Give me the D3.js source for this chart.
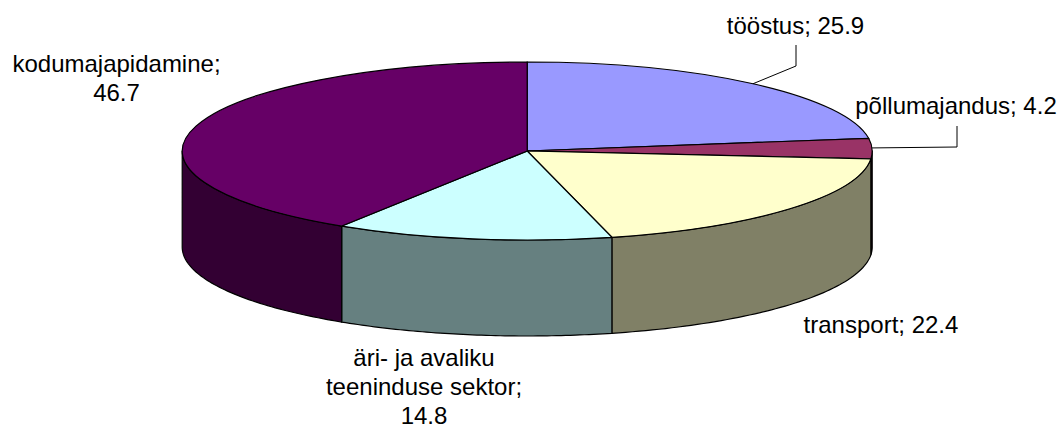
<!DOCTYPE html>
<html><head><meta charset="utf-8">
<script src="https://cdn.jsdelivr.net/npm/d3@7"></script>
<style>html,body{margin:0;background:#fff}svg{display:block}text{font-family:"Liberation Sans",Arial,sans-serif;font-size:24px;fill:#000}</style>
</head><body><svg id="c" width="1060" height="426"></svg>
<script>
const categories=["tööstus","põllumajandus","transport","äri- ja avaliku teeninduse sektor","kodumajapidamine"];
const values=[25.9,4.2,22.4,14.8,46.7];
const topColors=["#9999FF","#993366","#FFFFCC","#CCFFFF","#660066"];
const sideColors=["#4D4D80","#4D1933","#808066","#668080","#330033"];
const labelLines=[["tööstus; 25.9"],["põllumajandus; 4.2"],["transport; 22.4"],["äri- ja avaliku","teeninduse sektor;","14.8"],["kodumajapidamine;","46.7"]];
const labelAnchors=[[795.5,34],[956,114],[881,333],[424,366],[116.5,72]];
const lineHeight=29;
const leaderElbows=[[[796,66],[796,45]],[[957,147],[957,126]],[],[],[]];
const leaderFractions=[0.5,0.47,null,null,null];

const cx=527.2,cy=151,rx=345,ry=89,depth=96;
const svg=d3.select("#c");
const pie=d3.pie().sort(null).value(d=>d)(values);
const px=d3.scaleLinear().domain([-1,1]).range([cx-rx,cx+rx]);
const py=d3.scaleLinear().domain([-1,1]).range([cy-ry,cy+ry]);
const rim=(a,dz=0)=>[px(Math.sin(a)),py(-Math.cos(a))+dz];
const line=d3.line();
const sampled=(a0,a1)=>d3.range(0,61).map(i=>a0+(a1-a0)*i/60);

// side walls: only the front half of the disc is visible
const wall=svg.append("g");
pie.forEach((s,i)=>{
  const a0=Math.max(s.startAngle,Math.PI/2),a1=Math.min(s.endAngle,Math.PI*1.5);
  if(a1<=a0)return;
  const as=sampled(a0,a1);
  const pts=as.map(a=>rim(a)).concat(as.slice().reverse().map(a=>rim(a,depth)));
  wall.append("path").attr("d",line(pts)+"Z").attr("fill",sideColors[i])
    .attr("stroke","#000").attr("stroke-width",1.2).attr("stroke-linejoin","round");
});
// top face
const arc=d3.arc().innerRadius(0).outerRadius(rx);
svg.append("g").attr("transform",`translate(${cx},${cy}) scale(1,${ry/rx})`)
  .selectAll("path").data(pie).join("path")
  .attr("d",arc).attr("fill",(d,i)=>topColors[i])
  .attr("stroke","#000").attr("stroke-width",1.2).attr("vector-effect","non-scaling-stroke");
// leader lines
pie.forEach((s,i)=>{
  if(leaderFractions[i]==null)return;
  const start=rim(s.startAngle+(s.endAngle-s.startAngle)*leaderFractions[i]);
  svg.append("path").attr("d",line([start,...leaderElbows[i]])).attr("fill","none")
    .attr("stroke","#000").attr("stroke-width",1);
});
// labels
labelLines.forEach((ls,i)=>{
  const t=svg.append("text").attr("text-anchor","middle");
  ls.forEach((l,j)=>t.append("tspan").attr("x",labelAnchors[i][0]).attr("y",labelAnchors[i][1]+j*lineHeight).text(l));
});
</script></body></html>
